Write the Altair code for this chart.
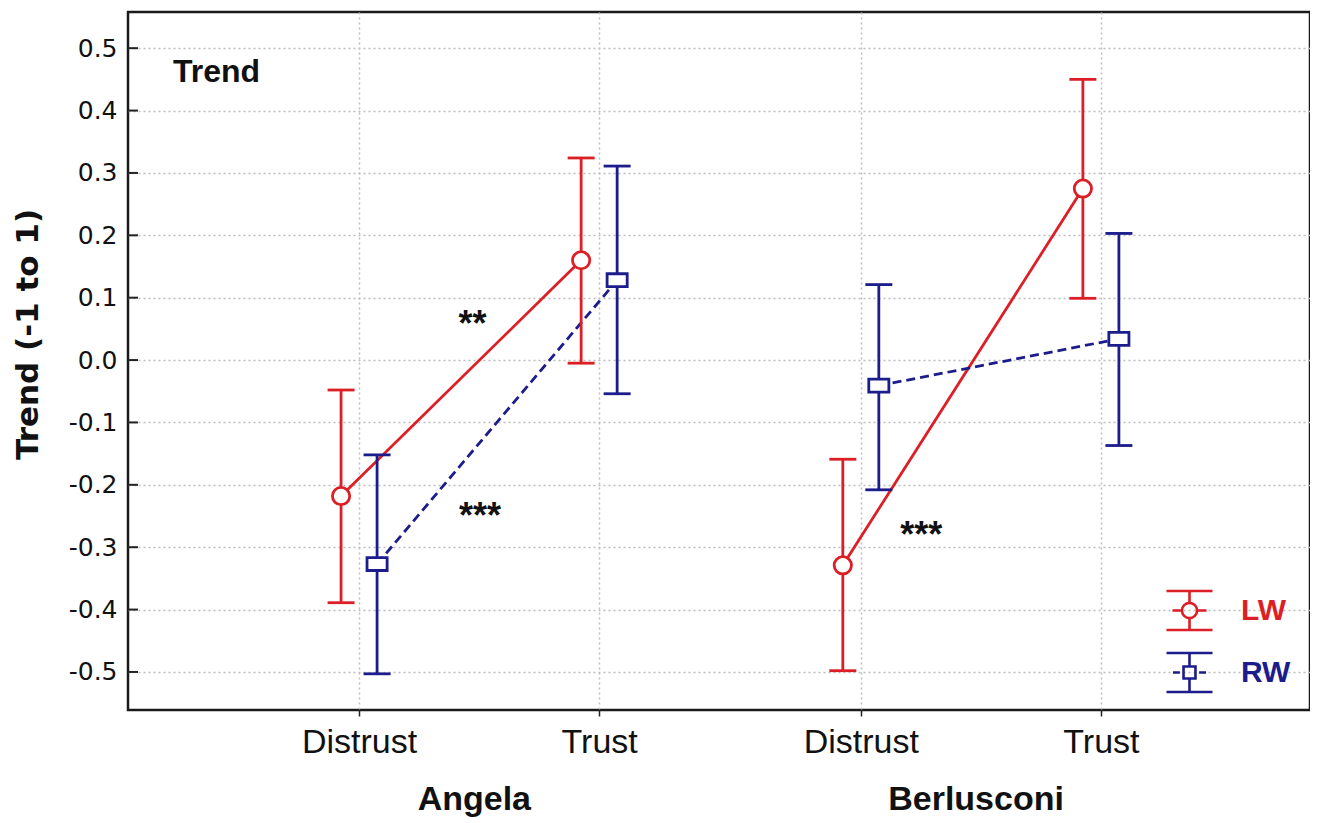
import altair as alt
import pandas as pd

# ---------------- data ----------------
persons = ["Angela", "Berlusconi"]
conditions = ["Distrust", "Trust"]
groups = ["LW", "RW"]

# order: Angela-Distrust, Angela-Trust, Berlusconi-Distrust, Berlusconi-Trust
lw_mean = [-0.218, 0.160, -0.329, 0.275]
lw_low = [-0.389, -0.005, -0.498, 0.099]
lw_high = [-0.048, 0.324, -0.159, 0.450]

rw_mean = [-0.327, 0.128, -0.041, 0.034]
rw_low = [-0.503, -0.054, -0.208, -0.137]
rw_high = [-0.152, 0.311, 0.121, 0.203]

sig_text = ["**", "***", "***"]
sig_x = [0.473, 0.504, 2.342]
sig_y = [0.038, -0.270, -0.299]

y_ticks = [-0.5, -0.4, -0.3, -0.2, -0.1, 0.0, 0.1, 0.2, 0.3, 0.4, 0.5]

# ---------------- layout / style ----------------
RED = "#dc1f26"
NAVY = "#1c1c8c"
GRID = "#bdbdbd"
FONT = "Liberation Sans"
SW = 2.8

person_base = {"Angela": 0.0, "Berlusconi": 2.09}
group_shift = {"LW": -0.075, "RW": 0.075}
group_color = {"LW": RED, "RW": NAVY}

series = {"LW": (lw_mean, lw_low, lw_high), "RW": (rw_mean, rw_low, rw_high)}
rows = []
for g in groups:
    m, lo, hi = series[g]
    k = 0
    for p in persons:
        for ci, c in enumerate(conditions):
            rows.append(dict(person=p, condition=c, group=g,
                             x=person_base[p] + ci + group_shift[g],
                             mean=m[k], low=lo[k], high=hi[k],
                             color=group_color[g]))
            k += 1
df = pd.DataFrame(rows)

x_vals = [person_base[p] + ci for p in persons for ci in range(len(conditions))]
x_labs = [c for p in persons for c in conditions]
label_expr = ""
for v, l in zip(x_vals, x_labs):
    label_expr += f"datum.value == {v} ? '{l}' : "
label_expr += "''"

x_scale = alt.Scale(domain=[-0.9625, 3.961], nice=False, zero=False)
y_scale = alt.Scale(domain=[-0.561, 0.558], nice=False, zero=False)

x_axis = alt.Axis(values=x_vals, labelExpr=label_expr, title=None, grid=True,
                  gridDash=[2, 3], gridColor=GRID, gridWidth=1.5, domain=False,
                  ticks=True, tickSize=6, tickColor="#222", tickWidth=1.5,
                  labelFont=FONT, labelFontSize=34, labelColor="#111",
                  labelPadding=9, labelFlush=False)
y_axis = alt.Axis(values=y_ticks, format=".1f",
                  labelExpr="replace(datum.label, '\u2212', '-')",
                  title="Trend (-1 to 1)", grid=True, gridDash=[2, 3],
                  gridColor=GRID, gridWidth=1.5, domain=False, ticks=False,
                  tickSize=0, labelFont="DejaVu Sans", labelFontSize=25,
                  labelColor="#111", labelPadding=11,
                  titleFont="DejaVu Sans", titleFontWeight="bold",
                  titleFontSize=31, titleColor="#111", titleX=-100, titleY=322,
                  titleAngle=270, titleAlign="center", titleBaseline="middle")


def X(field="x"):
    return alt.X(f"{field}:Q", scale=x_scale, axis=x_axis)


def Y(field):
    return alt.Y(f"{field}:Q", scale=y_scale, axis=y_axis, title="Trend (-1 to 1)")


stroke = alt.Stroke("color:N", scale=None)
colr = alt.Color("color:N", scale=None)

base = alt.Chart(df)

line_lw = base.transform_filter("datum.group == 'LW'").mark_line(
    strokeWidth=SW, opacity=1).encode(x=X(), y=Y("mean"), color=colr, detail="person:N")
line_rw = base.transform_filter("datum.group == 'RW'").mark_line(
    strokeWidth=SW, strokeDash=[9, 5], opacity=1).encode(x=X(), y=Y("mean"), color=colr, detail="person:N")

err = base.mark_rule(strokeWidth=SW, opacity=1).encode(x=X(), y=Y("low"), y2="high:Q", color=colr)
cap_lo = base.mark_tick(orient="horizontal", size=27, thickness=SW, opacity=1).encode(x=X(), y=Y("low"), color=colr)
cap_hi = base.mark_tick(orient="horizontal", size=27, thickness=SW, opacity=1).encode(x=X(), y=Y("high"), color=colr)

rect_path = "M-1.18,-0.76H1.18V0.76H-1.18Z"
pts_lw = base.transform_filter("datum.group == 'LW'").mark_point(
    shape="circle", filled=True, fill="white", size=300, strokeWidth=SW, opacity=1
).encode(x=X(), y=Y("mean"), stroke=stroke)
pts_rw = base.transform_filter("datum.group == 'RW'").mark_point(
    shape=rect_path, filled=True, fill="white", size=290, strokeWidth=SW, opacity=1
).encode(x=X(), y=Y("mean"), stroke=stroke)

# inward ticks on the y axis
ytick_df = pd.DataFrame({"v": y_ticks})
yticks = alt.Chart(ytick_df).mark_rule(color="#222", strokeWidth=2).encode(
    y=Y("v"), x=alt.value(0), x2=alt.value(10)
)

sig_df = pd.DataFrame({"t": sig_text, "sx": sig_x, "sy": sig_y})
sig = alt.Chart(sig_df).mark_text(font=FONT, fontWeight="bold", fontSize=36,
                                  baseline="alphabetic", align="center", color="#111").encode(
    x=X("sx"), y=Y("sy"), text="t:N"
)

pers_df = pd.DataFrame({"p": persons, "px": [person_base[p] + 0.48 for p in persons]})
pers = alt.Chart(pers_df).mark_text(font=FONT, fontWeight="bold", fontSize=34,
                                    baseline="alphabetic", align="center", color="#111").encode(
    x=X("px"), y=alt.value(798), text="p:N"
)

trend_df = pd.DataFrame({"t": ["Trend"]})
trend = alt.Chart(trend_df).mark_text(font=FONT, fontWeight="bold", fontSize=32,
                                      baseline="alphabetic", align="left", color="#111").encode(
    x=alt.value(45), y=alt.value(70), text="t:N"
)

# legend with error-bar glyphs
lw_glyph = ("M-1,-0.85H1M-1,0.85H1M0,-0.85V-0.33M0,0.33V0.85"
            "M-0.74,0H-0.33M0.33,0H0.74"
            "M-0.33,0A0.33,0.33,0,1,0,0.33,0A0.33,0.33,0,1,0,-0.33,0Z")
rw_glyph = ("M-1,-0.85H1M-1,0.85H1M0,-0.85V-0.26M0,0.26V0.85"
            "M-0.26,-0.26H0.26V0.26H-0.26Z"
            "M-0.72,0H-0.42M0.42,0H0.72")
leg = alt.Legend(title=None, orient="none", legendX=1037, legendY=574, padding=0,
                 symbolSize=2116, symbolStrokeWidth=2.6, symbolOpacity=1,
                 rowPadding=11, labelOffset=27, labelFont=FONT,
                 labelFontWeight="bold", labelFontSize=30,
                 labelColor={"expr": f"datum.label == 'LW' ? '{RED}' : '{NAVY}'"})
legend_layer = base.transform_filter("false").mark_point(
    filled=False, strokeWidth=2.6, opacity=1
).encode(
    color=alt.Color("group:N", scale=alt.Scale(domain=groups, range=[RED, NAVY]), legend=leg),
    shape=alt.Shape("group:N", scale=alt.Scale(domain=groups, range=[lw_glyph, rw_glyph]), legend=leg),
)

chart = alt.layer(
    line_lw, line_rw, err, cap_lo, cap_hi, pts_lw, pts_rw, yticks, sig, pers, trend, legend_layer
).properties(
    width=1182, height=698,
    autosize=alt.AutoSizeParams(type="none"),
    padding={"left": 120, "top": 4, "right": 0, "bottom": 110},
    background="white",
).configure_view(
    stroke="#1a1a1a", strokeWidth=2.5
)

chart.save("out.html", embed_options={"renderer": "svg", "actions": False})
